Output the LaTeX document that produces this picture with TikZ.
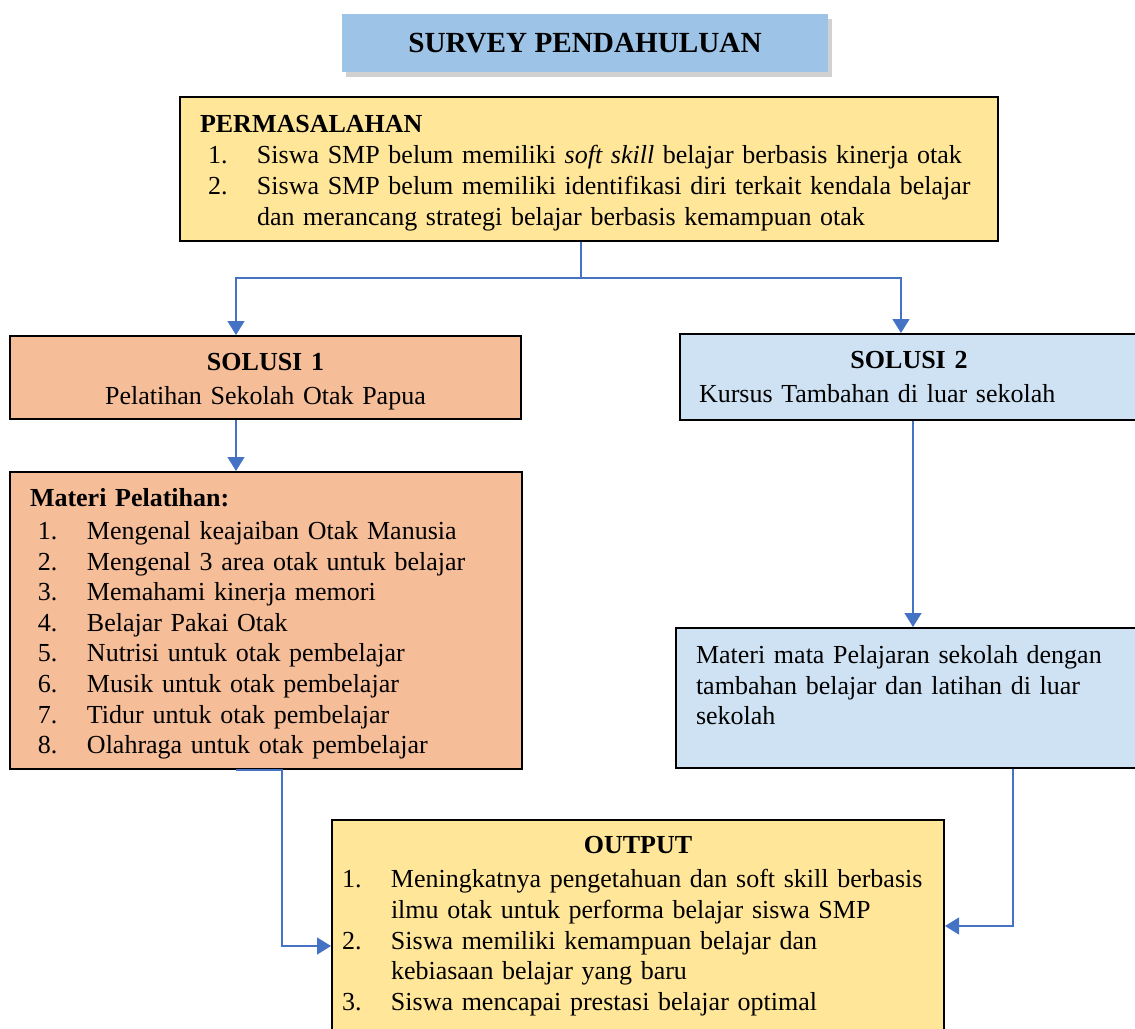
\documentclass[tikz,border=0pt]{standalone}
\usepackage{fontspec}
\setmainfont{Liberation Serif}
\usepackage{tikz}
\usetikzlibrary{arrows.meta, shadows}

\definecolor{surveyblue}{HTML}{9DC3E6}
\definecolor{permyellow}{HTML}{FFE699}
\definecolor{solorange}{HTML}{F5BD98}
\definecolor{sollight}{HTML}{CFE2F3}
\definecolor{linkblue}{HTML}{4472C4}

% numbered line: indent, number, text
\newcommand{\li}[3][4pt]{\hspace*{#1}\makebox[24.5pt][l]{#2}#3}
% raise the first line a little inside a box
\newcommand{\topstrut}[1]{\rule{0pt}{#1}}

\begin{document}
\begin{tikzpicture}[
  x=0.5pt, y=-0.5pt,
  % --- Box styles ---
  basebox/.style={
    rectangle, draw=black, line width=1pt,
    inner ysep=4pt, font=\fontsize{13}{15.3}\selectfont
  },
  titlebox/.style={rectangle, fill=surveyblue,
    minimum width=243pt, minimum height=29pt,
    font=\fontsize{14.6}{16}\selectfont\bfseries,
    drop shadow={shadow xshift=2pt, shadow yshift=-2.5pt,
      fill=black!60, opacity=0.3}},
  permbox/.style={basebox, fill=permyellow, align=left,
    inner xsep=10pt, text width=389pt, minimum height=72pt},
  sol1box/.style={basebox, fill=solorange, align=center,
    inner xsep=5pt, text width=245.5pt, minimum height=41.5pt},
  sol2box/.style={basebox, fill=sollight, align=left,
    inner xsep=9.5pt, text width=210pt, minimum height=43pt},
  matbox/.style={basebox, fill=solorange, align=left,
    inner xsep=10pt, text width=236pt, minimum height=148.5pt},
  kurbox/.style={basebox, fill=sollight, align=left,
    inner xsep=10pt, text width=211pt, minimum height=70pt},
  outbox/.style={basebox, fill=permyellow, align=left,
    inner xsep=5pt, text width=296pt, minimum height=106pt},
  % --- Arrows ---
  flow/.style={-{Triangle[length=7pt,width=8.5pt]}, line width=0.7pt,
    color=linkblue},
]
\useasboundingbox (0,0) rectangle (1135,1028);

% ===================== TITLE =====================
\node[titlebox] (survey) at (585,43) {SURVEY PENDAHULUAN};

% ===================== PROBLEM =====================
\node[permbox, anchor=north west] (perm) at (179,96)
  {\topstrut{12.6pt}\textbf{PERMASALAHAN}\\[0.5pt]
   \li{1.}{Siswa SMP belum memiliki \textit{soft skill} belajar berbasis kinerja otak}\\
   \li{2.}{Siswa SMP belum memiliki identifikasi diri terkait kendala belajar}\\
   \hspace*{28.5pt}dan merancang strategi belajar berbasis kemampuan otak};

% ===================== SOLUTIONS =====================
\node[sol1box, anchor=north west] (sol1) at (9,335)
  {\topstrut{12.6pt}\textbf{SOLUSI 1}\\[2pt] Pelatihan Sekolah Otak Papua};

\node[sol2box, anchor=north west] (sol2) at (679,333)
  {\makebox[\linewidth]{\textbf{SOLUSI 2}}\\[2pt]
   Kursus Tambahan di luar sekolah};

\node[matbox, anchor=north west] (mat) at (9,471)
  {\topstrut{12.5pt}\textbf{Materi Pelatihan:}\\[1pt]
   \li{1.}{Mengenal keajaiban Otak Manusia}\\
   \li{2.}{Mengenal 3 area otak untuk belajar}\\
   \li{3.}{Memahami kinerja memori}\\
   \li{4.}{Belajar Pakai Otak}\\
   \li{5.}{Nutrisi untuk otak pembelajar}\\
   \li{6.}{Musik untuk otak pembelajar}\\
   \li{7.}{Tidur untuk otak pembelajar}\\
   \li{8.}{Olahraga untuk otak pembelajar}};

\node[kurbox, anchor=north west] (kur) at (675,627)
  {Materi mata Pelajaran sekolah dengan\\
   tambahan belajar dan latihan di luar\\
   sekolah\rule[-13pt]{0pt}{0pt}};

% ===================== OUTPUT =====================
\node[outbox, anchor=north west] (out) at (331,819)
  {\makebox[\linewidth]{\textbf{OUTPUT}}\\[2pt]
   \li[0pt]{1.}{Meningkatnya pengetahuan dan soft skill berbasis}\\
   \hspace*{24.5pt}ilmu otak untuk performa belajar siswa SMP\\
   \li[0pt]{2.}{Siswa memiliki kemampuan belajar dan}\\
   \hspace*{24.5pt}kebiasaan belajar yang baru\\
   \li[0pt]{3.}{Siswa mencapai prestasi belajar optimal}};

% ================ CONNECTORS ================
\coordinate (split) at (581,278);
\coordinate (lft) at (236,278);
\coordinate (rgt) at (901,278);
\coordinate (drop2) at (913,419);
\coordinate (elbowL) at (282,946);
\coordinate (elbowR) at (1013,926);

\draw[flow] (perm.south -| split) -- (split) -- (lft) -- (lft |- sol1.north);
\draw[flow] (split) -- (rgt) -- (rgt |- sol2.north);

\draw[flow] (sol1.south -| lft) -- (mat.north -| lft);
\draw[flow] (sol2.south -| drop2) -- (kur.north -| drop2);

\draw[flow] (mat.south -| lft) -- (mat.south -| elbowL)
  -- (elbowL) -- (elbowL -| out.west);
\draw[flow] (kur.south -| elbowR) -- (elbowR) -- (elbowR -| out.east);

\end{tikzpicture}
\end{document}
